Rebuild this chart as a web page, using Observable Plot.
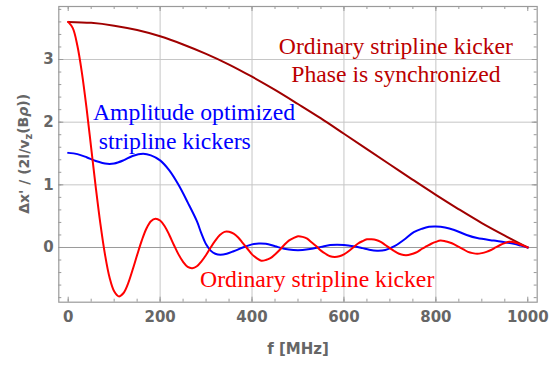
<!DOCTYPE html>
<html><head><meta charset="utf-8">
<script src="https://cdn.jsdelivr.net/npm/d3@7"></script>
<script src="https://cdn.jsdelivr.net/npm/@observablehq/plot@0.6"></script>
<style>body{margin:0;background:#fff}#chart svg{display:block}</style>
</head><body><div id="chart"></div>
<script>
// Phase-synchronized ordinary kicker (dark red)
const syncFreq = [0,50,100,150,200,250,300,350,400,450,500,550,600,650,700,750,800,850,900,950,1000];
const syncVal  = [3.60,3.585,3.54,3.47,3.37,3.24,3.09,2.92,2.725,2.515,2.29,2.06,1.815,1.57,1.325,1.08,0.84,0.61,0.39,0.19,0.00];

// Ordinary stripline kicker (red)
const ordFreq = [0,10,20,30,40,50,60,70,80,90,100,110,120,130,140,150,160,170,180,190,200,210,220,230,240,250,260,270,280,290,300,310,320,330,340,350,360,370,380,390,400,410,420,430,440,450,460,470,480,490,500,510,520,530,540,550,560,570,580,590,600,610,620,630,640,650,660,670,680,690,700,710,720,730,740,750,760,770,780,790,800,810,820,830,840,850,860,870,880,890,900,910,920,930,940,950,960,970,980,990,1000];
const ordVal = [3.60,3.50,3.22,2.78,2.22,1.59,0.96,0.38,-0.11,-0.48,-0.70,-0.78,-0.73,-0.58,-0.36,-0.12,0.11,0.30,0.42,0.46,0.43,0.34,0.20,0.04,-0.11,-0.23,-0.31,-0.33,-0.30,-0.22,-0.12,0.00,0.11,0.20,0.25,0.25,0.22,0.16,0.07,-0.02,-0.11,-0.17,-0.21,-0.20,-0.17,-0.11,-0.04,0.04,0.11,0.15,0.18,0.17,0.14,0.08,0.02,-0.05,-0.10,-0.14,-0.15,-0.14,-0.11,-0.06,0.00,0.06,0.10,0.13,0.13,0.12,0.09,0.04,-0.01,-0.06,-0.10,-0.12,-0.12,-0.10,-0.07,-0.02,0.02,0.06,0.09,0.11,0.10,0.08,0.05,0.01,-0.03,-0.07,-0.09,-0.10,-0.09,-0.07,-0.04,0.00,0.04,0.07,0.09,0.085,0.06,0.03,0.00];

// Amplitude optimized stripline kickers (blue)
const optFreq = [0,20,40,60,85,100,120,140,163,180,200,220,240,260,280,290,300,310,320,331,345,360,380,400,415,430,450,470,490,510,530,550,570,585,600,620,640,655,672,690,710,730,752,770,785,800,820,840,867,890,926,950,970,985,1000];
const optVal  = [1.51,1.49,1.44,1.38,1.335,1.34,1.39,1.46,1.495,1.47,1.39,1.23,1.00,0.72,0.42,0.22,0.05,-0.05,-0.10,-0.117,-0.10,-0.06,0.00,0.05,0.065,0.06,0.02,-0.02,-0.04,-0.04,-0.02,0.01,0.04,0.045,0.04,0.02,-0.01,-0.035,-0.05,-0.04,0.02,0.12,0.245,0.30,0.33,0.335,0.32,0.28,0.20,0.15,0.11,0.085,0.058,0.03,0.00];

const xTickLabels = [0,200,400,600,800,1000];
const yTickLabels = [0,1,2,3];
const xGrid = [200,400,600,800];
const yGrid = [1,2,3];
const xMinor = [0,50,100,150,200,250,300,350,400,450,500,550,600,650,700,750,800,850,900,950,1000];
const yMinor = [-0.8,-0.6,-0.4,-0.2,0,0.2,0.4,0.6,0.8,1,1.2,1.4,1.6,1.8,2,2.2,2.4,2.6,2.8,3,3.2,3.4,3.6,3.8];

const syncLabels = [
  {f:713, v:3.088, t:"Ordinary stripline kicker"},
  {f:713, v:2.638, t:"Phase is synchronized"}
];
const optLabels = [
  {f:54, v:2.038, t:"Amplitude optimized"},
  {f:66.6, v:1.575, t:"stripline kickers"}
];
const ordLabels = [
  {f:287, v:-0.633, t:"Ordinary stripline kicker"}
];

const toRows = (fs, vs) => fs.map((f, i) => ({f, v: vs[i]}));
const syncRows = toRows(syncFreq, syncVal);
const ordRows = toRows(ordFreq, ordVal);
const optRows = toRows(optFreq, optVal);

const mL = 58.3, mR = 17.3, mT = 6, mB = 63.3, W = 554, H = 365;
const fH = H - mT - mB, fW = W - mL - mR;
const gray = "#666";
const serif = {x: "f", y: "v", text: "t", lineAnchor: "bottom", fontFamily: "Liberation Serif", fontSize: 23.7, fontWeight: "normal"};

const chart = Plot.plot({
  width: W, height: H,
  marginLeft: mL, marginRight: mR, marginTop: mT, marginBottom: mB,
  x: {domain: [-20.45, 1020.5]},
  y: {domain: [-0.873, 3.846]},
  style: {fontFamily: "DejaVu Sans", fontSize: "15px", fontWeight: "bold", color: gray, background: "#fff"},
  marks: [
    Plot.ruleX(xGrid, {stroke: "#c6c6c6", strokeWidth: 1}),
    Plot.ruleY(yGrid, {stroke: "#c6c6c6", strokeWidth: 1}),
    Plot.ruleY([0], {stroke: "#9a9a9a", strokeWidth: 1}),
    Plot.tickX(xMinor, {x: d => d, insetTop: fH - 3, stroke: "#9a9a9a"}),
    Plot.tickX(xMinor, {x: d => d, insetBottom: fH - 3, stroke: "#9a9a9a"}),
    Plot.tickX(xTickLabels, {x: d => d, insetTop: fH - 5, stroke: "#9a9a9a"}),
    Plot.tickX(xTickLabels, {x: d => d, insetBottom: fH - 5, stroke: "#9a9a9a"}),
    Plot.tickY(yMinor, {y: d => d, insetRight: fW - 3, stroke: "#9a9a9a"}),
    Plot.tickY(yMinor, {y: d => d, insetLeft: fW - 3, stroke: "#9a9a9a"}),
    Plot.tickY(yTickLabels, {y: d => d, insetRight: fW - 5, stroke: "#9a9a9a"}),
    Plot.tickY(yTickLabels, {y: d => d, insetLeft: fW - 5, stroke: "#9a9a9a"}),
    Plot.frame({stroke: "#9a9a9a", strokeWidth: 1.2}),
    Plot.axisX(xTickLabels, {tickSize: 0, tickPadding: 9, label: null, fill: gray, tickFormat: d => String(d)}),
    Plot.axisY(yTickLabels, {tickSize: 0, tickPadding: 5, label: null, fill: gray, tickFormat: d => String(d)}),
    Plot.line(syncRows, {x: "f", y: "v", stroke: "#a00000", strokeWidth: 2, curve: "catmull-rom"}),
    Plot.line(optRows, {x: "f", y: "v", stroke: "#0000ff", strokeWidth: 2, curve: "catmull-rom"}),
    Plot.line(ordRows, {x: "f", y: "v", stroke: "#ff0000", strokeWidth: 2, curve: "catmull-rom"}),
    Plot.text(syncLabels, {...serif, fill: "#bb0000", textAnchor: "middle"}),
    Plot.text(optLabels, {...serif, fill: "#0000ff", textAnchor: "start"}),
    Plot.text(ordLabels, {...serif, fill: "#ff0000", textAnchor: "start"}),
    Plot.text(["f [MHz]"], {text: d => d, frameAnchor: "bottom", dy: 47.3, lineAnchor: "middle", fill: gray})
  ]
});
document.getElementById("chart").appendChild(chart);

// y-axis title with subscript
const svg = d3.select(chart);
const yt = svg.append("text")
  .attr("transform", `translate(24,${mT + fH / 2}) rotate(-90)`)
  .attr("text-anchor", "middle")
  .attr("dy", "0.35em")
  .attr("fill", gray)
  .style("font-family", "DejaVu Sans")
  .style("font-weight", "bold")
  .style("font-size", "14px");
yt.append("tspan").text("Δx' / (2l/v");
yt.append("tspan").attr("dy", "0.3em").style("font-size", "10px").text("z");
yt.append("tspan").attr("dy", "-0.3em").text("(B");
yt.append("tspan").style("font-style", "italic").text("ρ");
yt.append("tspan").text("))");
</script>
</body></html>
